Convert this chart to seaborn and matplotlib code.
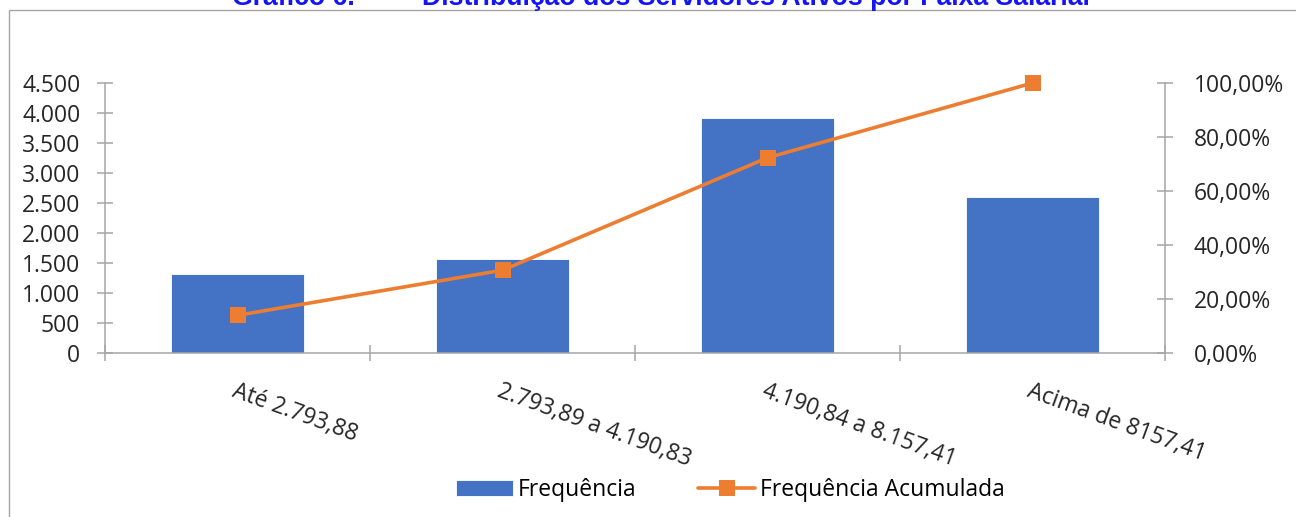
import numpy as np
import pandas as pd
import seaborn as sns
import matplotlib.pyplot as plt
from matplotlib.ticker import FuncFormatter, MultipleLocator, FixedLocator
from matplotlib.patches import Rectangle

# ── Data ────────────────────────────────────────────────────────────────────
faixas = ["Até 2.793,88", "2.793,89 a 4.190,83", "4.190,84 a 8.157,41", "Acima de 8157,41"]
frequencia = [1312, 1567, 3912, 2600]
freq_acumulada = [0.1397, 0.3066, 0.7231, 1.0]

BLUE = "#4472C4"
ORANGE = "#ED7D31"
AXIS_GRAY = "#a6a6a6"
TEXT = "#262626"
FS = 16.5

sns.set_theme(style="white")
plt.rcParams["font.family"] = ["Open Sans", "DejaVu Sans"]

fig = plt.figure(figsize=(12.96, 5.17), dpi=100)
ax = fig.add_axes([105 / 1296, 1 - 353 / 517, (1165 - 105) / 1296, (353 - 83) / 517])

df = pd.DataFrame({"faixa": faixas, "freq": frequencia, "acum": freq_acumulada})

# ── Bars ────────────────────────────────────────────────────────────────────
sns.barplot(data=df, x="faixa", y="freq", color=BLUE, saturation=1, width=0.5,
            edgecolor="white", linewidth=0.6, label="Frequência", ax=ax)
ax.set_xlim(-0.5, 3.5)
ax.set_ylim(0, 4500)
ax.yaxis.set_major_locator(MultipleLocator(500))
ax.yaxis.set_major_formatter(FuncFormatter(lambda v, _: f"{v:,.0f}".replace(",", ".")))

# ── Cumulative line ─────────────────────────────────────────────────────────
ax2 = ax.twinx()
sns.lineplot(data=df, x="faixa", y="acum", sort=False, color=ORANGE, linewidth=2.6,
             marker="s", markersize=12, markeredgewidth=0, label="Frequência Acumulada",
             clip_on=False, ax=ax2)
ax2.set_xlim(-0.5, 3.5)
ax2.set_ylim(0, 1.0)
ax2.yaxis.set_major_locator(MultipleLocator(0.2))
ax2.yaxis.set_major_formatter(FuncFormatter(lambda v, _: f"{v * 100:.2f}%".replace(".", ",")))

for a in (ax, ax2):
    a.set_xlabel("")
    a.set_ylabel("")
    for side in ("left", "right", "bottom"):
        a.spines[side].set_color(AXIS_GRAY)
        a.spines[side].set_linewidth(1.1)
    a.spines["top"].set_visible(False)
ax.spines["right"].set_visible(False)
ax2.spines["left"].set_visible(False)
ax2.spines["bottom"].set_visible(False)

# x ticks: labels at centres, tick marks at category boundaries
ax.set_xticks(range(len(faixas)))
ax.set_xticklabels(faixas, rotation=-20, ha="left", va="top", rotation_mode="anchor")
ax.xaxis.set_minor_locator(FixedLocator(np.arange(-0.5, len(faixas), 1.0)))
ax.tick_params(axis="x", which="major", length=0, pad=19, labelsize=FS, labelcolor=TEXT)
ax.tick_params(axis="x", which="minor", bottom=True, direction="inout", length=11.5,
               width=1.1, color=AXIS_GRAY)
ax.tick_params(axis="y", left=True, direction="inout", length=11.5, width=1.1,
               color=AXIS_GRAY, pad=12, labelsize=FS, labelcolor=TEXT)
ax2.tick_params(axis="y", right=True, direction="inout", length=11.5, width=1.1,
                color=AXIS_GRAY, pad=15, labelsize=FS, labelcolor=TEXT)

# ── Legend ──────────────────────────────────────────────────────────────────
h1, l1 = ax.get_legend_handles_labels()
h2, l2 = ax2.get_legend_handles_labels()
for a in (ax, ax2):
    if a.get_legend() is not None:
        a.get_legend().remove()
fig.legend(h1 + h2, l1 + l2, loc="center", bbox_to_anchor=(0.5635, 1 - 490 / 517),
           ncol=2, frameon=False, fontsize=FS, handlelength=2.5, handletextpad=0.2,
           columnspacing=2.7, labelcolor="black")

# ── Title (clipped at the top, as in the source) and outer frame ────────────
title_kw = dict(fontsize=19.2, fontweight="bold", color="#1414f5",
                family=["Liberation Sans", "DejaVu Sans"], va="baseline", ha="left")
fig.text(232 / 1296, 1 - 5 / 517, "Gráfico 6.", **title_kw)
fig.text(422 / 1296, 1 - 5 / 517, "Distribuição dos Servidores Ativos por Faixa Salarial", **title_kw)
fig.patches.append(Rectangle((9 / 1296, -0.1), 1.2, 1.1 - 9.5 / 517, transform=fig.transFigure,
                             fill=False, edgecolor=AXIS_GRAY, linewidth=1.0, zorder=0))

fig.savefig("out.png", dpi=100)
